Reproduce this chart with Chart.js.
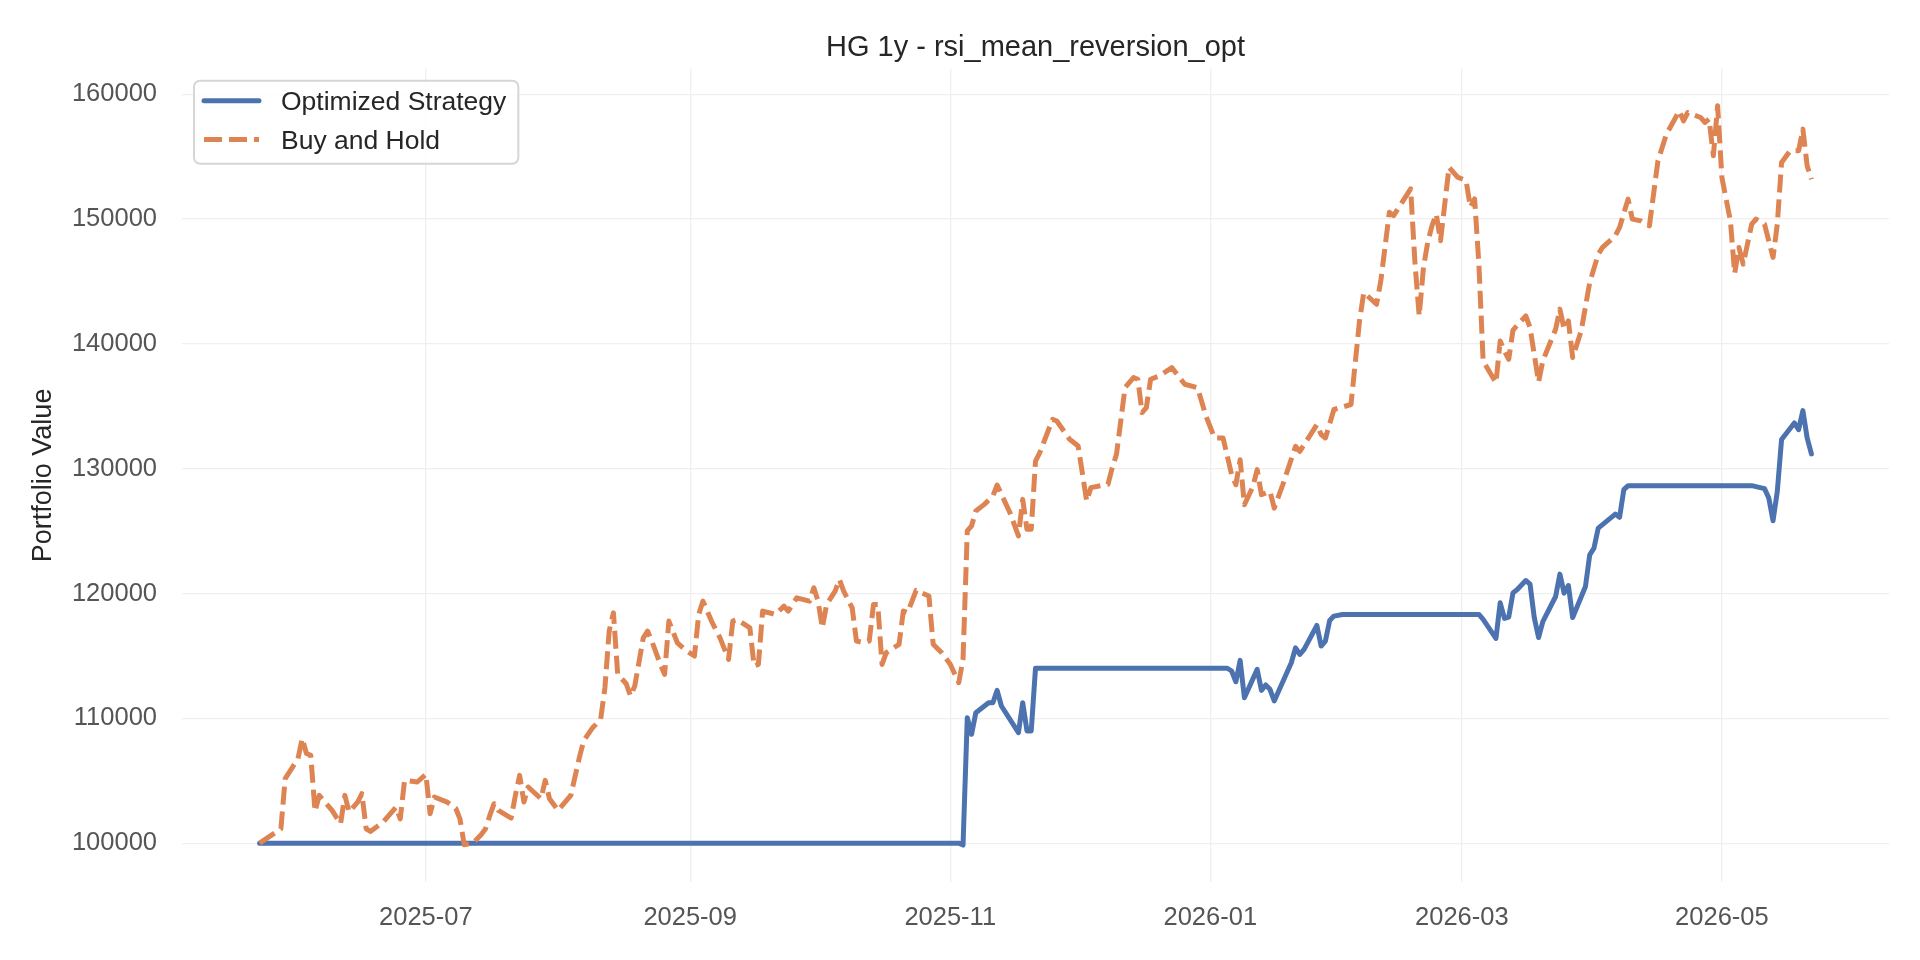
<!DOCTYPE html>
<html>
<head>
<meta charset="utf-8">
<title>HG 1y - rsi_mean_reversion_opt</title>
<script src="https://cdn.jsdelivr.net/npm/chart.js@4.4.1/dist/chart.umd.min.js"></script>
<style>
html, body { margin: 0; padding: 0; background: #fff; }
#wrap { width: 1920px; height: 960px; }
</style>
</head>
<body>
<div id="wrap"><canvas id="c" width="1920" height="960"></canvas></div>
<script>
// Optimized Strategy (only the days where the curve changes direction)
var stratDates = ['2025-05-23','2025-11-03','2025-11-04','2025-11-05','2025-11-06','2025-11-07','2025-11-10','2025-11-11','2025-11-12','2025-11-13',
  '2025-11-17','2025-11-18','2025-11-19','2025-11-20','2025-11-21','2026-01-05','2026-01-06','2026-01-07','2026-01-08','2026-01-09',
  '2026-01-12','2026-01-13','2026-01-14','2026-01-15','2026-01-16','2026-01-20','2026-01-21','2026-01-22','2026-01-23','2026-01-26',
  '2026-01-27','2026-01-28','2026-01-29','2026-01-30','2026-02-01','2026-03-05','2026-03-06','2026-03-09','2026-03-10','2026-03-11',
  '2026-03-12','2026-03-13','2026-03-14','2026-03-16','2026-03-17','2026-03-18','2026-03-19','2026-03-20','2026-03-23','2026-03-24',
  '2026-03-25','2026-03-26','2026-03-27','2026-03-30','2026-03-31','2026-04-01','2026-04-02','2026-04-06','2026-04-07','2026-04-08',
  '2026-04-09','2026-05-08','2026-05-11','2026-05-12','2026-05-13','2026-05-14','2026-05-15','2026-05-18','2026-05-19','2026-05-20',
  '2026-05-21','2026-05-22'];
var stratValues = [100000,100000,99850,110050,108720,110450,111250,111250,112240,110990,
  108850,111250,108990,108990,114010,114010,113790,112930,114640,111650,
  113920,112240,112670,112320,111390,114450,115650,115120,115520,117440,
  115790,116190,117840,118190,118320,118320,117920,116400,119250,118000,
  118110,120050,120320,121040,120750,118050,116470,117750,119760,121550,
  120030,120640,118070,120560,123100,123640,125240,126360,126100,128320,
  128640,128640,128400,127650,125830,128180,132330,133660,133130,134650,
  132460,131180];

// Buy and Hold
var holdDates = ['2025-05-23','2025-05-28','2025-05-29','2025-06-01','2025-06-02','2025-06-03','2025-06-04','2025-06-05','2025-06-06','2025-06-09',
  '2025-06-11','2025-06-12','2025-06-13','2025-06-15','2025-06-16','2025-06-17','2025-06-18','2025-06-21','2025-06-24','2025-06-25',
  '2025-06-26','2025-06-29','2025-07-01','2025-07-02','2025-07-03','2025-07-06','2025-07-08','2025-07-09','2025-07-10','2025-07-12',
  '2025-07-14','2025-07-15','2025-07-16','2025-07-17','2025-07-18','2025-07-21','2025-07-22','2025-07-23','2025-07-24','2025-07-25',
  '2025-07-28','2025-07-29','2025-07-30','2025-08-01','2025-08-03','2025-08-04','2025-08-06','2025-08-07','2025-08-09','2025-08-11',
  '2025-08-12','2025-08-13','2025-08-14','2025-08-15','2025-08-17','2025-08-18','2025-08-19','2025-08-21','2025-08-22','2025-08-23',
  '2025-08-25','2025-08-26','2025-08-27','2025-08-29','2025-08-31','2025-09-02','2025-09-03','2025-09-04','2025-09-06','2025-09-08',
  '2025-09-10','2025-09-11','2025-09-12','2025-09-15','2025-09-16','2025-09-17','2025-09-18','2025-09-21','2025-09-23','2025-09-24',
  '2025-09-26','2025-09-29','2025-09-30','2025-10-01','2025-10-02','2025-10-03','2025-10-05','2025-10-06','2025-10-07','2025-10-09',
  '2025-10-10','2025-10-12','2025-10-13','2025-10-14','2025-10-15','2025-10-16','2025-10-17','2025-10-20','2025-10-21','2025-10-22',
  '2025-10-24','2025-10-27','2025-10-28','2025-10-30','2025-11-01','2025-11-03','2025-11-04','2025-11-05','2025-11-06','2025-11-07',
  '2025-11-09','2025-11-11','2025-11-12','2025-11-15','2025-11-17','2025-11-18','2025-11-19','2025-11-20','2025-11-21','2025-11-22',
  '2025-11-25','2025-11-26','2025-11-29','2025-12-01','2025-12-03','2025-12-04','2025-12-08','2025-12-09','2025-12-10','2025-12-12',
  '2025-12-14','2025-12-15','2025-12-16','2025-12-17','2025-12-18','2025-12-20','2025-12-23','2025-12-26','2025-12-29','2025-12-31',
  '2026-01-02','2026-01-04','2026-01-06','2026-01-07','2026-01-08','2026-01-09','2026-01-11','2026-01-12','2026-01-13','2026-01-15',
  '2026-01-16','2026-01-18','2026-01-21','2026-01-22','2026-01-26','2026-01-27','2026-01-28','2026-01-30','2026-02-03','2026-02-05',
  '2026-02-06','2026-02-09','2026-02-10','2026-02-12','2026-02-13','2026-02-17','2026-02-18','2026-02-19','2026-02-20','2026-02-21',
  '2026-02-22','2026-02-23','2026-02-24','2026-02-26','2026-02-28','2026-03-02','2026-03-03','2026-03-04','2026-03-05','2026-03-06',
  '2026-03-09','2026-03-10','2026-03-11','2026-03-12','2026-03-13','2026-03-16','2026-03-17','2026-03-19','2026-03-20','2026-03-23',
  '2026-03-24','2026-03-25','2026-03-26','2026-03-27','2026-03-29','2026-03-31','2026-04-02','2026-04-03','2026-04-06','2026-04-07',
  '2026-04-09','2026-04-10','2026-04-12','2026-04-14','2026-04-16','2026-04-18','2026-04-21','2026-04-22','2026-04-23','2026-04-26',
  '2026-04-27','2026-04-28','2026-04-29','2026-04-30','2026-05-01','2026-05-03','2026-05-04','2026-05-05','2026-05-06','2026-05-08',
  '2026-05-09','2026-05-11','2026-05-13','2026-05-14','2026-05-15','2026-05-17','2026-05-19','2026-05-20','2026-05-21','2026-05-22'];
var holdValues = [100000,101150,105170,106770,108380,107180,107040,102540,103830,102620,
  101550,103830,102490,103290,103960,101150,100940,101690,102890,101950,
  105030,104900,105520,102360,103700,103290,102800,101950,99870,100000,
  100700,101150,102220,103160,102620,102010,103830,105430,103290,104500,
  103560,105030,103560,102620,103430,103830,106850,108190,109200,109920,
  112450,116990,118450,113520,112770,111790,112590,116450,116990,116190,
  114320,113520,117790,116050,115440,114990,118320,119390,117790,116450,
  114720,117790,117920,117250,114190,114320,118590,118320,118990,118590,
  119650,119390,120450,119390,117250,119120,120190,121120,120190,118850,
  116190,116050,116190,119120,119120,114320,115260,115930,118600,118460,
  120250,119800,115930,115260,114330,112860,114730,125010,125410,126610,
  127140,127810,128690,126480,124610,127540,125140,125140,130610,131280,
  133950,133820,132350,131820,127410,128480,128750,130080,131150,136490,
  137290,137160,134490,134890,137160,137420,138090,136760,136490,134200,
  132460,132460,129520,128710,130720,127110,128580,129920,127910,128180,
  126840,128710,131790,131390,133530,132730,132460,134740,135140,141830,
  144110,143170,145050,150540,150270,152410,146520,142240,146120,148130,
  149460,150400,148260,154150,153350,153080,150940,151610,146390,138620,
  136880,140230,139420,138760,141100,142240,141300,136950,138640,141170,
  142780,141170,141840,138900,141040,144910,147180,147720,148650,149320,
  151590,149990,149850,149450,154660,156800,158660,157860,158530,158130,
  157730,158000,155060,159070,153320,149850,145630,147720,146380,149590,
  149990,149590,146920,149590,154530,155460,155460,157200,154260,153190];

var xTickLabels = ['2025-07','2025-09','2025-11','2026-01','2026-03','2026-05'];
var yTicks = [100000,110000,120000,130000,140000,150000,160000];

var FONT = '"Liberation Sans", Arial, "DejaVu Sans", sans-serif';
var BLUE = '#4c72b0', ORANGE = '#dd8452', GRID = '#efefef';

function dayNum(s) { var p = s.split('-'); return Date.UTC(+p[0], +p[1] - 1, +(p[2] || 1)) / 86400000; }
function toPoints(dates, vals) { return dates.map(function (d, i) { return { x: dayNum(d), y: vals[i] }; }); }

// matplotlib style 5% margins
var xFirst = dayNum(holdDates[0]), xLast = dayNum(holdDates[holdDates.length - 1]);
var xPad = (xLast - xFirst) * 0.05;
var allVals = stratValues.concat(holdValues);
var vMin = Math.min.apply(null, allVals), vMax = Math.max.apply(null, allVals);
var yPad = (vMax - vMin) * 0.05;

var legendBox = {
    id: 'legendBox',
    afterDatasetsDraw: function (chart) {
        var ctx = chart.ctx, a = chart.chartArea, ds = chart.data.datasets;
        ctx.save();
        ctx.font = '26.5px ' + FONT;
        var tw = 0; ds.forEach(function (d) { tw = Math.max(tw, ctx.measureText(d.label).width); });
        var x = a.left + 12, y = a.top + 12, w = 87 + tw + 12, h = 83, r = 6;
        ctx.beginPath();
        ctx.moveTo(x + r, y); ctx.lineTo(x + w - r, y); ctx.arcTo(x + w, y, x + w, y + r, r);
        ctx.lineTo(x + w, y + h - r); ctx.arcTo(x + w, y + h, x + w - r, y + h, r);
        ctx.lineTo(x + r, y + h); ctx.arcTo(x, y + h, x, y + h - r, r);
        ctx.lineTo(x, y + r); ctx.arcTo(x, y, x + r, y, r); ctx.closePath();
        ctx.fillStyle = 'rgba(255,255,255,0.8)'; ctx.fill();
        ctx.lineWidth = 2; ctx.strokeStyle = '#d6d6d6'; ctx.stroke();
        ds.forEach(function (d, i) {
            var ly = y + 20 + i * 38.6;
            ctx.beginPath();
            ctx.setLineDash(d.borderDash || []);
            ctx.lineCap = d.borderDash ? 'butt' : 'round';
            ctx.lineWidth = d.borderWidth; ctx.strokeStyle = d.borderColor;
            ctx.moveTo(x + 10, ly); ctx.lineTo(x + 65, ly); ctx.stroke();
            ctx.setLineDash([]);
            ctx.fillStyle = '#262626'; ctx.textBaseline = 'middle'; ctx.textAlign = 'left';
            ctx.fillText(d.label, x + 87, ly + 2);
        });
        ctx.restore();
    }
};

new Chart(document.getElementById('c'), {
    type: 'line',
    data: {
        datasets: [
            { label: 'Optimized Strategy', data: toPoints(stratDates, stratValues), borderColor: BLUE, borderWidth: 5,
              pointRadius: 0, tension: 0, fill: false, borderJoinStyle: 'round', borderCapStyle: 'round', order: 1 },
            { label: 'Buy and Hold', data: toPoints(holdDates, holdValues), borderColor: ORANGE, borderWidth: 5,
              borderDash: [18, 7], pointRadius: 0, tension: 0, fill: false, borderJoinStyle: 'round', order: 0 }
        ]
    },
    options: {
        responsive: false, animation: false, devicePixelRatio: 1,
        layout: { padding: { left: 0, right: 31, top: 0, bottom: 0 } },
        plugins: {
            legend: { display: false }, tooltip: { enabled: false },
            title: { display: true, fullSize: false, text: 'HG 1y - rsi_mean_reversion_opt', color: '#262626',
                     font: { family: FONT, size: 29, weight: 'normal' }, padding: { top: 31, bottom: 3 } }
        },
        scales: {
            x: {
                type: 'linear', min: xFirst - xPad, max: xLast + xPad,
                grid: { color: GRID, lineWidth: 1.3, drawTicks: false }, border: { display: false },
                afterBuildTicks: function (s) { s.ticks = xTickLabels.map(function (l) { return { value: dayNum(l) }; }); },
                afterFit: function (s) { s.height = 78; },
                ticks: { padding: 21, color: '#555555', maxRotation: 0, autoSkip: false, font: { family: FONT, size: 25.5 },
                         callback: function (v, i) { return xTickLabels[i]; } }
            },
            y: {
                min: vMin - yPad, max: vMax + yPad,
                grid: { color: GRID, lineWidth: 1.3, drawTicks: false }, border: { display: false },
                afterBuildTicks: function (s) { s.ticks = yTicks.map(function (v) { return { value: v }; }); },
                afterFit: function (s) { s.width = 182; },
                ticks: { padding: 25, color: '#555555', font: { family: FONT, size: 25.5 },
                         callback: function (v) { return String(v); } },
                title: { display: true, text: 'Portfolio Value', color: '#262626',
                         font: { family: FONT, size: 27 }, padding: { top: 27, bottom: 0 } }
            }
        }
    },
    plugins: [legendBox]
});
</script>
</body>
</html>
